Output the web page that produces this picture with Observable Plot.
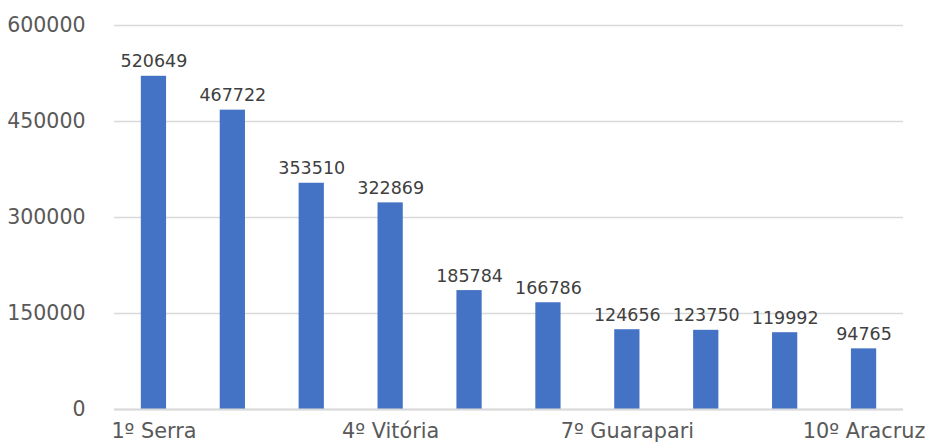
<!DOCTYPE html>
<html>
<head>
<meta charset="utf-8">
<script src="https://cdn.jsdelivr.net/npm/d3@7"></script>
<script src="https://cdn.jsdelivr.net/npm/@observablehq/plot@0.6"></script>
<style>
  html, body { margin: 0; padding: 0; background: #fff; }
  #chart svg { display: block; }
</style>
</head>
<body>
<div id="chart"></div>
<script>
const categories = ["1º Serra", "2º Vila Velha", "3º Cariacica", "4º Vitória", "5º Cachoeiro de Itapemirim", "6º Linhares", "7º Guarapari", "8º São Mateus", "9º Colatina", "10º Aracruz"];
const populations = [520649, 467722, 353510, 322869, 185784, 166786, 124656, 123750, 119992, 94765];
const shownLabels = ["1º Serra", "4º Vitória", "7º Guarapari", "10º Aracruz"];
const yTicks = [0, 150000, 300000, 450000, 600000];

const data = categories.map((c, i) => ({category: c, value: populations[i]}));

const chart = Plot.plot({
  width: 925,
  height: 444,
  marginTop: 25,
  marginBottom: 35,
  marginLeft: 114,
  marginRight: 22,
  style: {fontFamily: "'DejaVu Sans', Verdana, sans-serif", background: "#fff"},
  x: {domain: categories, paddingInner: 0.68, paddingOuter: 0.34, round: false, label: null},
  y: {domain: [0, 600000], label: null},
  marks: [
    Plot.gridY(yTicks, {stroke: "#d9d9d9", strokeOpacity: 1, strokeWidth: 1.5}),
    Plot.barY(data, {x: "category", y: "value", fill: "#4472C4"}),
    Plot.ruleY([0], {stroke: "#d9d9d9", strokeWidth: 2}),
    Plot.text(data, {x: "category", y: "value", text: d => String(d.value), lineAnchor: "bottom", dy: -9, fontSize: 17.5, fill: "#404040"}),
    Plot.axisY(yTicks, {tickSize: 0, tickPadding: 29, tickFormat: d => String(d), fontSize: 20.5, fill: "#595959", label: null}),
    Plot.axisX({tickSize: 0, tickPadding: 14, tickFormat: d => shownLabels.includes(d) ? d : "", fontSize: 20.8, fill: "#595959", label: null})
  ]
});
document.getElementById("chart").appendChild(chart);
</script>
</body>
</html>
